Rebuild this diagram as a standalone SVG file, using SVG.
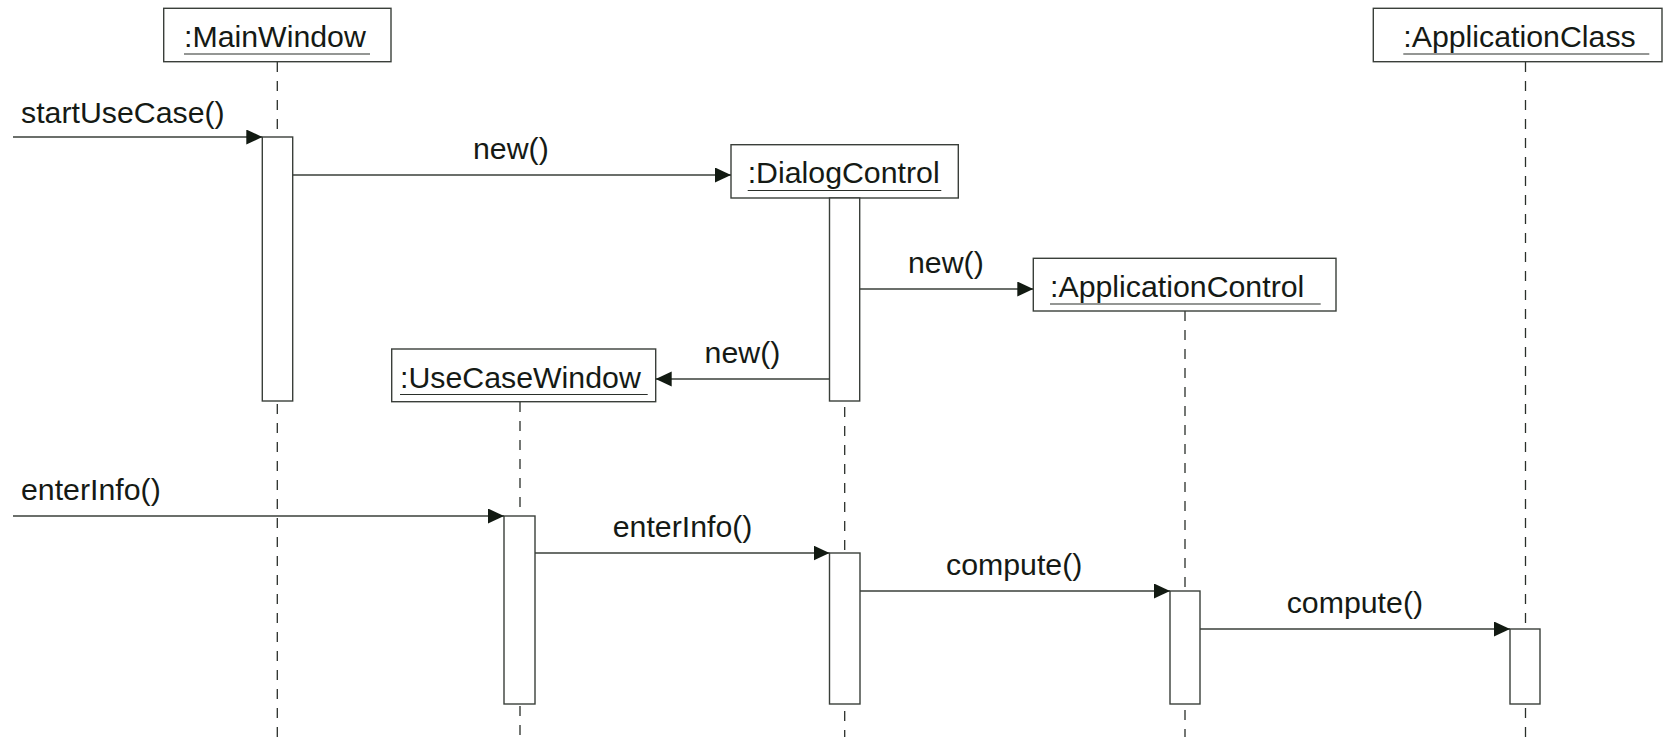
<svg xmlns="http://www.w3.org/2000/svg" width="1664" height="737" viewBox="0 0 1664 737">
<style>
.box{fill:#fff;stroke:#3a3f3a;stroke-width:1.4}
.act{fill:#fff;stroke:#3a3f3a;stroke-width:1.4}
.life{stroke:#2a2f2a;stroke-width:1.3;stroke-dasharray:10 9;fill:none}
.msg{stroke:#3a3f3a;stroke-width:1.4;fill:none;marker-end:url(#ah)}
.ul{stroke:#2a2f2a;stroke-width:1.2}
text{font-family:"Liberation Sans",Arial,sans-serif;font-size:30.3px;fill:#151a15}
</style>
<defs>
<marker id="ah" markerUnits="userSpaceOnUse" markerWidth="18" markerHeight="16" refX="16" refY="7.5" orient="auto">
<path d="M0,0 L16,7.5 L0,15 z" fill="#121a12"/>
</marker>
</defs>
<g id="lifelines">
<line class="life" x1="277.3" y1="62" x2="277.3" y2="737"/>
<line class="life" x1="844.7" y1="198" x2="844.7" y2="737"/>
<line class="life" x1="520" y1="402" x2="520" y2="737"/>
<line class="life" x1="1185" y1="311" x2="1185" y2="737"/>
<line class="life" x1="1525.5" y1="62" x2="1525.5" y2="737"/>
</g>
<g id="MainWindow">
<rect class="box" x="163.7" y="8.3" width="227.3" height="53.4"/>
<text x="184" y="47">:MainWindow</text>
<line class="ul" x1="184" y1="54" x2="370" y2="54"/>
</g>
<g id="DialogControl">
<rect class="box" x="731" y="144.7" width="227.3" height="53.3"/>
<text x="747.7" y="183.3">:DialogControl</text>
<line class="ul" x1="747.7" y1="190.5" x2="941.3" y2="190.5"/>
</g>
<g id="ApplicationControl">
<rect class="box" x="1033.3" y="258.3" width="302.7" height="52.7"/>
<text x="1050" y="297">:ApplicationControl</text>
<line class="ul" x1="1050" y1="304" x2="1320.7" y2="304"/>
</g>
<g id="UseCaseWindow">
<rect class="box" x="391.7" y="349" width="264" height="52.7"/>
<text x="400" y="387.6">:UseCaseWindow</text>
<line class="ul" x1="400" y1="394.5" x2="647.7" y2="394.5"/>
</g>
<g id="ApplicationClass">
<rect class="box" x="1373.3" y="8.3" width="288.7" height="53.4"/>
<text x="1403.3" y="47">:ApplicationClass</text>
<line class="ul" x1="1403.3" y1="54" x2="1649.3" y2="54"/>
</g>
<g id="activations">
<rect class="act" x="262.3" y="137" width="30.4" height="264"/>
<rect class="act" x="829.5" y="198" width="30.2" height="203"/>
<rect class="act" x="504" y="516" width="31" height="188"/>
<rect class="act" x="829.5" y="553" width="30.5" height="151"/>
<rect class="act" x="1170" y="591" width="30" height="113"/>
<rect class="act" x="1510" y="629" width="30" height="75"/>
</g>
<g id="connectors">
<line class="msg" x1="13" y1="137" x2="262.3" y2="137"/>
<line class="msg" x1="292.7" y1="175" x2="731" y2="175"/>
<line class="msg" x1="859.7" y1="289" x2="1033.3" y2="289"/>
<line class="msg" x1="829.5" y1="379" x2="655.7" y2="379"/>
<line class="msg" x1="13" y1="516" x2="504" y2="516"/>
<line class="msg" x1="535" y1="553" x2="829.5" y2="553"/>
<line class="msg" x1="860" y1="591" x2="1170" y2="591"/>
<line class="msg" x1="1200" y1="629" x2="1510" y2="629"/>
</g>
<g id="labels">
<text x="21" y="123">startUseCase()</text>
<text x="473" y="159">new()</text>
<text x="908" y="273">new()</text>
<text x="704.6" y="363">new()</text>
<text x="21" y="500">enterInfo()</text>
<text x="612.7" y="537">enterInfo()</text>
<text x="946" y="575">compute()</text>
<text x="1286.7" y="613">compute()</text>
</g>
</svg>
